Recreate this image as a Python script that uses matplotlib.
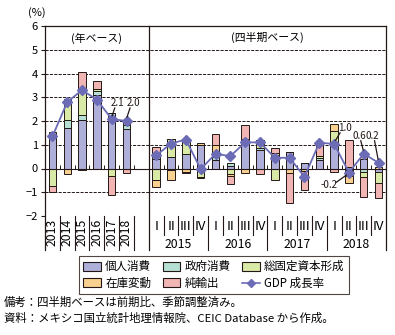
import numpy as np
import matplotlib
matplotlib.use("Agg")
import matplotlib.pyplot as plt
from matplotlib.patches import Patch
from matplotlib.lines import Line2D

plt.rcParams['font.family'] = ['Noto Sans CJK JP', 'DejaVu Sans']

# periods: 6 annual (2013-2018) + 16 quarters (2015Q1-2018Q4)
years = ['2013', '2014', '2015', '2016', '2017', '2018']
quarter_labels = ['I', 'II', 'III', 'IV'] * 4
quarter_years = ['2015', '2016', '2017', '2018']

private_cons = [1.33, 1.71, 2.04, 3.10, 2.20, 1.68,
                0.38, 0.49, 0.62, 0.97, 0.35, 0.10, 1.15, 0.80,
                0.58, 0.70, 0.24, 0.35, 1.08, -0.08, 0.38, -0.15]
gov_cons = [0.0, 0.34, 0.21, 0.15, 0.14, 0.14,
            0.14, -0.07, 0.0, 0.0, 0.13, 0.12, 0.10, 0.05,
            0.0, 0.0, 0.0, 0.08, 0.0, 0.08, -0.13, 0.0]
gfcf = [-0.74, 0.78, 1.06, 0.10, -0.32, 0.17,
        -0.49, 0.76, 0.57, -0.35, 0.0, -0.25, 0.0, 0.33,
        -0.50, 0.0, 0.0, 0.10, 0.49, -0.25, -0.22, -0.45]
inventory = [0.20, -0.25, -0.07, 0.0, 0.0, 0.0,
             -0.28, -0.42, -0.15, 0.12, 0.49, -0.06, -0.20, 0.0,
             0.08, -0.18, -0.10, -0.04, 0.32, -0.30, 0.11, 0.07]
net_exports = [-0.24, 0.10, 0.77, 0.35, -0.81, -0.18,
               0.39, 0.0, -0.05, -0.07, 0.49, -0.33, 0.60, -0.22,
               0.21, -1.26, -0.80, 0.55, -0.14, 1.10, -0.85, -0.66]
gdp_annual = [1.35, 2.80, 3.30, 2.90, 2.08, 2.00]
gdp_quarterly = [0.55, 1.05, 1.22, -0.03, 0.62, 0.52, 1.10, 1.10,
                 0.45, 0.45, -0.35, 1.08, 1.04, -0.17, 0.62, 0.24]

components = [
    ('個人消費', private_cons, '#aeb0d9'),
    ('政府消費', gov_cons, '#b5e0d3'),
    ('総固定資本形成', gfcf, '#d9eaa6'),
    ('在庫変動', inventory, '#f8d190'),
    ('純輸出', net_exports, '#f1b5b4'),
]
line_color = '#6c6cb6'
ink = '#231815'

x_annual = np.arange(6) + 0.5
x_quarter = np.arange(16) + 7.5
x_all = np.concatenate([x_annual, x_quarter])

fig = plt.figure(figsize=(3.95, 3.35), dpi=100)
ax = fig.add_axes([45 / 395, 1 - 216 / 335, 341 / 395, 190 / 335])
ax.set_xlim(0, 23)
ax.set_ylim(-2, 6)

# grid
for y in [-1, 1, 2, 3, 4, 5]:
    ax.axhline(y, color=ink, lw=0.7, dashes=(3.2, 1.3), zorder=1)
ax.axhline(0, color=ink, lw=0.8, zorder=4)
ax.vlines(list(range(1, 7)) + list(range(8, 23)), 0, 0.14, color=ink, lw=0.7, zorder=4)

# stacked bars
pos_base = np.zeros(len(x_all))
neg_base = np.zeros(len(x_all))
for name, vals, col in components:
    v = np.array(vals)
    bottom = np.where(v >= 0, pos_base, neg_base)
    ax.bar(x_all, v, 0.5, bottom=bottom, color=col, edgecolor=ink, lw=0.7, zorder=3)
    pos_base += np.where(v > 0, v, 0)
    neg_base += np.where(v < 0, v, 0)

ax.plot(x_annual, gdp_annual, color=line_color, lw=1.3, marker='D', ms=5.5, zorder=5)
ax.plot(x_quarter, gdp_quarterly, color=line_color, lw=1.3, marker='D', ms=5.5, zorder=5)

# value labels with leader lines (offsets in pixels from the marker)
def label(x, y, text_off, line_from, line_to):
    px, py = ax.transData.transform((x, y))
    inv = ax.transData.inverted()
    tx, ty = inv.transform((px + text_off[0], py + text_off[1]))
    ax.text(tx, ty, f'{y:.1f}', ha='center', va='center', fontsize=7, color=ink, zorder=7)
    a = inv.transform((px + line_from[0], py + line_from[1]))
    b = inv.transform((px + line_to[0], py + line_to[1]))
    ax.plot([a[0], b[0]], [a[1], b[1]], color=ink, lw=0.9, zorder=7, clip_on=False)

label(x_annual[4], gdp_annual[4], (6, 16), (3, 11), (0.5, 3.5))
label(x_annual[5], gdp_annual[5], (6.5, 18), (3.5, 13), (0.5, 4))
label(x_quarter[12], gdp_quarterly[12], (11, 16), (6, 11), (1.5, 3.5))
label(x_quarter[13], gdp_quarterly[13], (-20, -12), (-13, -10), (-2.5, -2.5))
label(x_quarter[14], gdp_quarterly[14], (-4, 18), (-3, 13), (-0.5, 3.5))
label(x_quarter[15], gdp_quarterly[15], (-6, 27), (-4, 22), (-0.5, 3.5))

# frame
for s in ['left', 'right', 'bottom']:
    ax.spines[s].set_visible(False)
ax.spines['top'].set_color(ink)
ax.spines['top'].set_linewidth(0.9)
trans = ax.get_xaxis_transform()
for xv in [0, 7, 23]:
    ax.plot([xv, xv], [-0.179, 1], color=ink, lw=0.9, transform=trans, clip_on=False)
for xv in [1, 2, 3, 4, 5, 6, 11, 15, 19]:
    ax.plot([xv, xv], [-0.179, 0], color=ink, lw=0.8, transform=trans, clip_on=False)
for xv in [8, 9, 10, 12, 13, 14, 16, 17, 18, 20, 21, 22]:
    ax.plot([xv, xv], [-0.1, 0], color=ink, lw=0.8, transform=trans, clip_on=False)

ax.set_xticks([])
ax.set_yticks(range(-2, 7))
ax.tick_params(axis='y', direction='out', length=3, width=0.8, pad=2, labelsize=8, color=ink)

for xv, t in zip(x_annual, years):
    ax.text(xv, -0.086, t, rotation=90, ha='center', va='center', fontsize=8.8, transform=trans)
for xv, t in zip(x_quarter, quarter_labels):
    ax.text(xv, -0.055, t, ha='center', va='center', fontsize=9.5, transform=trans)
for i, t in enumerate(quarter_years):
    ax.text(9 + 4 * i, -0.148, t, ha='center', va='center', fontsize=8.8, transform=trans)

ax.text(3.5, 5.5, '(年ベース)', ha='center', va='center', fontsize=7.8)
ax.text(15, 5.5, '(四半期ベース)', ha='center', va='center', fontsize=7.8)
fig.text(37 / 395, 1 - 13 / 335, '(%)', ha='center', va='center', fontsize=8)

handles = [Patch(facecolor=c, edgecolor=ink, lw=0.8) for _, _, c in components]
handles.append(Line2D([], [], color=line_color, lw=1.2, marker='D', ms=4.5))
names = [n for n, _, _ in components] + ['GDP 成長率']
order = [0, 3, 1, 4, 2, 5]
leg = fig.legend([handles[i] for i in order], [names[i] for i in order],
                 ncol=3, loc='center', bbox_to_anchor=(214 / 395, 1 - 275 / 335),
                 fontsize=8.3, frameon=True, fancybox=False, handlelength=1.5,
                 handleheight=0.8, handletextpad=0.4, columnspacing=1.0,
                 borderpad=0.35, labelspacing=0.3, borderaxespad=0)
leg.get_frame().set_edgecolor(ink)
leg.get_frame().set_linewidth(0.8)

fig.text(4 / 395, 1 - 302 / 335, '備考：四半期ベースは前期比、季節調整済み。', fontsize=8.2, va='center')
fig.text(4 / 395, 1 - 318 / 335, '資料：メキシコ国立統計地理情報院、CEIC Database から作成。', fontsize=8.2, va='center')

fig.savefig('out.png', dpi=100)
